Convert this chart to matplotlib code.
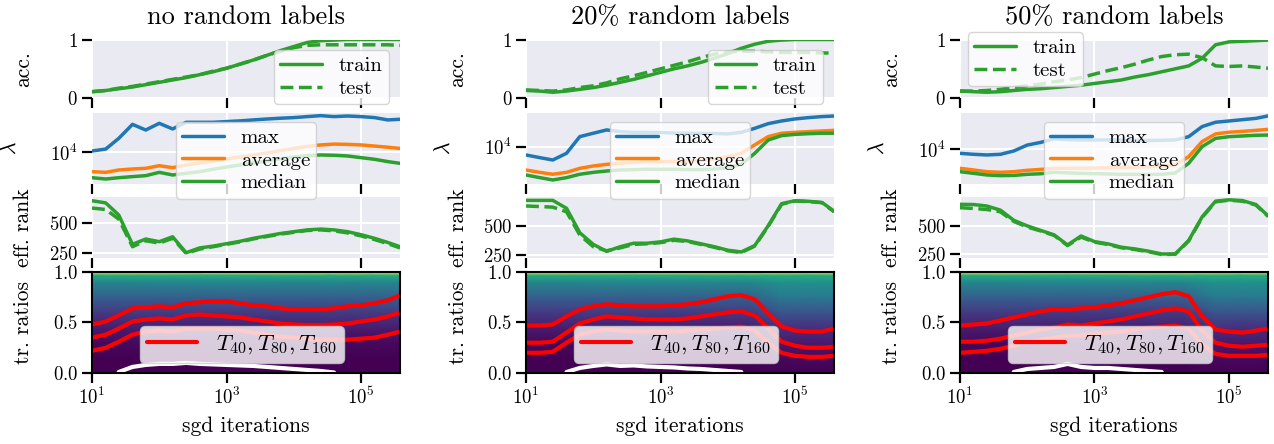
import numpy as np
import matplotlib.pyplot as plt
from matplotlib.ticker import NullLocator

# x positions (sgd iterations) shared by all curves
iters = [10, 16, 25, 40, 63, 100, 158, 251, 398, 631, 1000, 1585, 2512, 3981,
         6310, 10000, 15849, 25119, 39811, 63096, 100000, 158489, 251189, 380000]

titles = ["no random labels", "20% random labels", "50% random labels"]

acc_train = [
    [0.11, 0.13, 0.16, 0.19, 0.23, 0.27, 0.31, 0.35, 0.40, 0.45, 0.51, 0.58, 0.65, 0.73, 0.81, 0.88, 0.95, 0.98, 0.99, 1.0, 1.0, 1.0, 1.0, 1.0],
    [0.13, 0.12, 0.10, 0.12, 0.15, 0.18, 0.22, 0.27, 0.32, 0.38, 0.44, 0.50, 0.55, 0.61, 0.68, 0.76, 0.85, 0.92, 0.97, 0.99, 1.0, 1.0, 1.0, 1.0],
    [0.12, 0.11, 0.10, 0.11, 0.13, 0.15, 0.16, 0.18, 0.20, 0.22, 0.25, 0.28, 0.31, 0.36, 0.40, 0.45, 0.50, 0.55, 0.68, 0.91, 0.96, 0.97, 0.98, 0.99],
]
acc_test = [
    [0.11, 0.13, 0.17, 0.20, 0.24, 0.28, 0.32, 0.36, 0.40, 0.46, 0.51, 0.58, 0.65, 0.73, 0.80, 0.86, 0.90, 0.91, 0.91, 0.91, 0.91, 0.91, 0.91, 0.90],
    [0.14, 0.13, 0.12, 0.14, 0.18, 0.21, 0.26, 0.33, 0.38, 0.44, 0.50, 0.56, 0.62, 0.69, 0.75, 0.79, 0.80, 0.80, 0.79, 0.78, 0.78, 0.78, 0.77, 0.77],
    [0.12, 0.12, 0.13, 0.15, 0.18, 0.21, 0.24, 0.28, 0.31, 0.35, 0.41, 0.47, 0.52, 0.58, 0.65, 0.71, 0.74, 0.75, 0.69, 0.55, 0.54, 0.55, 0.53, 0.51],
]

lam_max = [
    [10300, 10900, 14900, 22400, 19000, 23100, 19600, 23800, 23800, 23800, 24300, 24800, 25500, 26200, 26800, 27300, 28100, 28900, 28100, 28600, 28100, 27300, 25500, 26000],
    [7900, 7310, 6820, 8300, 13500, 14900, 16400, 15600, 15300, 15300, 15200, 15000, 14900, 14800, 14800, 14600, 15300, 17200, 19700, 21300, 22600, 23500, 24200, 24600],
    [8800, 8550, 8390, 8550, 9420, 11200, 12100, 13400, 13100, 13000, 13000, 13000, 12900, 12900, 12800, 12900, 13000, 14300, 19200, 21800, 22600, 23500, 24400, 26200],
]
lam_avg = [
    [5640, 5530, 5920, 6100, 6220, 6710, 6340, 6850, 7260, 7710, 8170, 8650, 9180, 9730, 10400, 11100, 11800, 12300, 12600, 12500, 12300, 11900, 11500, 11100],
    [5090, 4760, 4500, 4760, 5350, 5730, 6010, 6200, 6380, 6500, 6500, 6520, 6640, 6760, 7030, 7520, 8290, 10600, 13500, 14900, 15300, 15600, 15900, 16200],
    [5690, 5410, 5150, 5060, 5150, 5360, 5500, 5690, 5690, 5690, 5720, 5790, 5850, 5900, 5950, 6020, 6270, 7980, 12400, 15500, 16300, 16700, 17200, 17700],
]
lam_med = [
    [4730, 4550, 4730, 4880, 5020, 5530, 5120, 5370, 5640, 6040, 6460, 6850, 7260, 7710, 8170, 8650, 9000, 9180, 9100, 8910, 8490, 8090, 7560, 7190],
    [4400, 4080, 3810, 4080, 4500, 4760, 4950, 5090, 5150, 5200, 5200, 5200, 5150, 5150, 5250, 5460, 6010, 8290, 12200, 13900, 14400, 14700, 14900, 14900],
    [5150, 4910, 4680, 4590, 4620, 4770, 4850, 5060, 4980, 4910, 4860, 4820, 4770, 4770, 4740, 4770, 4950, 6580, 10700, 13600, 14300, 14600, 14900, 15000],
]

rank_train = [
    [683, 665, 564, 320, 364, 342, 383, 250, 290, 305, 325, 345, 370, 390, 410, 425, 440, 447, 440, 425, 400, 370, 335, 300],
    [718, 718, 718, 650, 440, 340, 280, 320, 350, 350, 362, 385, 370, 345, 320, 290, 275, 330, 500, 690, 715, 710, 700, 625],
    [692, 690, 677, 640, 550, 500, 460, 420, 330, 410, 360, 340, 310, 295, 275, 250, 250, 370, 580, 720, 732, 725, 690, 590],
]
rank_test = [
    [622, 610, 530, 300, 350, 330, 370, 245, 280, 300, 320, 340, 365, 385, 405, 420, 435, 440, 432, 415, 390, 360, 325, 290],
    [670, 665, 660, 620, 420, 320, 285, 310, 340, 345, 355, 375, 365, 340, 315, 285, 270, 325, 495, 685, 712, 708, 698, 620],
    [662, 655, 646, 625, 540, 490, 455, 415, 325, 400, 355, 335, 305, 290, 270, 245, 248, 365, 575, 715, 728, 720, 685, 585],
]

t_high = [
    [0.48, 0.51, 0.57, 0.64, 0.65, 0.66, 0.65, 0.69, 0.70, 0.71, 0.71, 0.69, 0.67, 0.66, 0.64, 0.63, 0.63, 0.63, 0.64, 0.66, 0.67, 0.69, 0.72, 0.77],
    [0.47, 0.47, 0.48, 0.56, 0.63, 0.66, 0.68, 0.67, 0.66, 0.66, 0.66, 0.67, 0.68, 0.70, 0.73, 0.76, 0.77, 0.73, 0.59, 0.46, 0.42, 0.41, 0.41, 0.44],
    [0.47, 0.48, 0.49, 0.52, 0.55, 0.58, 0.61, 0.63, 0.63, 0.64, 0.65, 0.67, 0.69, 0.72, 0.75, 0.78, 0.80, 0.76, 0.56, 0.43, 0.41, 0.40, 0.42, 0.44],
]
t_mid = [
    [0.35, 0.38, 0.44, 0.51, 0.53, 0.54, 0.53, 0.57, 0.58, 0.57, 0.56, 0.55, 0.53, 0.51, 0.49, 0.48, 0.475, 0.475, 0.48, 0.49, 0.51, 0.53, 0.56, 0.60],
    [0.30, 0.30, 0.31, 0.40, 0.49, 0.53, 0.56, 0.55, 0.54, 0.53, 0.53, 0.53, 0.54, 0.56, 0.58, 0.60, 0.61, 0.57, 0.44, 0.31, 0.27, 0.25, 0.25, 0.26],
    [0.31, 0.31, 0.32, 0.34, 0.37, 0.40, 0.43, 0.45, 0.48, 0.47, 0.49, 0.51, 0.53, 0.56, 0.59, 0.62, 0.64, 0.61, 0.42, 0.30, 0.27, 0.26, 0.27, 0.28],
]
t_low = [
    [0.22, 0.25, 0.31, 0.38, 0.41, 0.42, 0.41, 0.44, 0.44, 0.44, 0.43, 0.42, 0.40, 0.38, 0.36, 0.35, 0.34, 0.33, 0.33, 0.33, 0.34, 0.35, 0.38, 0.41],
    [0.20, 0.20, 0.21, 0.30, 0.38, 0.41, 0.43, 0.42, 0.41, 0.41, 0.41, 0.41, 0.42, 0.43, 0.44, 0.45, 0.46, 0.42, 0.30, 0.20, 0.17, 0.16, 0.16, 0.17],
    [0.20, 0.21, 0.22, 0.24, 0.27, 0.30, 0.33, 0.35, 0.37, 0.37, 0.39, 0.40, 0.41, 0.43, 0.45, 0.46, 0.47, 0.44, 0.28, 0.19, 0.17, 0.17, 0.17, 0.18],
]
nan = np.nan
t_floor = [
    [nan, nan, 0.01, 0.06, 0.08, 0.09, 0.09, 0.10, 0.09, 0.085, 0.08, 0.075, 0.07, 0.06, 0.05, 0.04, 0.03, 0.02, 0.005, nan, nan, nan, nan, nan],
    [nan, nan, nan, 0.01, 0.05, 0.07, 0.085, 0.07, 0.075, 0.065, 0.06, 0.055, 0.045, 0.04, 0.03, 0.02, 0.01, nan, nan, nan, nan, nan, nan, nan],
    [nan, nan, nan, nan, 0.01, 0.04, 0.05, 0.06, 0.09, 0.06, 0.05, 0.05, 0.04, 0.03, 0.02, 0.01, nan, nan, nan, nan, nan, nan, nan, nan],
]

# background density of the ratios (viridis level) at a few heights / times
heat_y = [0.0, 0.15, 0.3, 0.45, 0.6, 0.75, 0.9, 0.97, 1.0]
heat_x = [10, 20000, 60000, 380000]
prof_a = [0.0, 0.0, 0.02, 0.08, 0.17, 0.30, 0.46, 0.62, 1.0]
prof_b = [0.0, 0.02, 0.07, 0.14, 0.26, 0.40, 0.50, 0.62, 1.0]
heat_cols = [
    [prof_a, prof_a, prof_a, prof_a],
    [prof_a, prof_a, prof_b, prof_b],
    [prof_a, prof_a, prof_b, prof_b],
]

lam_lims = [(3936, 31260), (3388, 26915), (3597, 28576)]
rank_lims = [(206, 714), (223, 747), (214, 757)]

plt.style.use('seaborn-v0_8-darkgrid')
plt.rcParams.update({
    'font.family': ['cmr10', 'DejaVu Serif'],
    'mathtext.fontset': 'cm',
    'axes.formatter.use_mathtext': True,
    'text.color': 'black',
    'axes.labelcolor': 'black',
    'xtick.bottom': True,
    'ytick.left': True,
    'xtick.color': 'black',
    'ytick.color': 'black',
    'xtick.major.size': 7,
    'ytick.major.size': 7,
    'xtick.major.width': 1.6,
    'ytick.major.width': 1.6,
    'xtick.major.pad': 3,
    'ytick.major.pad': 3,
    'xtick.labelsize': 13.5,
    'ytick.labelsize': 13.5,
    'axes.labelsize': 15.5,
    'axes.titlesize': 19,
    'grid.linewidth': 1.5,
    'legend.fontsize': 15,
    'legend.frameon': True,
    'legend.framealpha': 0.8,
    'legend.facecolor': 'white',
    'legend.edgecolor': '0.8',
    'legend.handlelength': 2.0,
    'legend.labelspacing': 0.2,
    'legend.borderpad': 0.3,
    'legend.borderaxespad': 0.0,
})

blue, orange, green = '#1f77b4', '#ff7f0e', '#2ca02c'
lw = 2.5

fig = plt.figure(figsize=(12.74, 4.44), dpi=100)
lefts = [0.0722, 0.4129, 0.7535]
width = 0.2418
rows = [(0.779, 0.132), (0.5856, 0.160), (0.4189, 0.1374), (0.1599, 0.2275)]

for c in range(3):
    axs = [fig.add_axes([lefts[c], b, width, h]) for b, h in rows]
    for ax in axs:
        ax.set_xscale('log')
        ax.set_xlim(10, 380000)
        ax.set_xticks([10, 1000, 100000])
        ax.xaxis.set_minor_locator(NullLocator())
    for ax in axs[:3]:
        ax.tick_params(labelbottom=False)

    ax1, ax2, ax3, ax4 = axs
    ax2.set_zorder(2)

    # accuracy
    ax1.plot(iters, acc_train[c], color=green, lw=lw, label='train')
    ax1.plot(iters, acc_test[c], color=green, lw=lw, ls='--', label='test')
    ax1.set_ylim(0, 1)
    ax1.set_yticks([0, 1])
    ax1.set_title(titles[c], pad=11)
    ax1.set_ylabel('acc.')
    if c < 2:
        ax1.legend(loc='lower right', bbox_to_anchor=(0.964, -0.105))
    else:
        ax1.legend(loc='upper left', bbox_to_anchor=(0.026, 1.12))

    # eigenvalues
    ax2.plot(iters, lam_max[c], color=blue, lw=lw, label='max')
    ax2.plot(iters, lam_avg[c], color=orange, lw=lw, label='average')
    ax2.plot(iters, lam_med[c], color=green, lw=lw, label='median')
    ax2.set_yscale('log')
    ax2.set_ylim(*lam_lims[c])
    ax2.set_yticks([10000])
    ax2.yaxis.set_minor_locator(NullLocator())
    ax2.set_ylabel(r'$\lambda$')
    ax2.legend(loc='upper left', bbox_to_anchor=(0.273, 0.873))

    # effective rank
    ax3.plot(iters, rank_train[c], color=green, lw=lw)
    ax3.plot(iters, rank_test[c], color=green, lw=lw, ls='--')
    ax3.set_ylim(*rank_lims[c])
    ax3.set_yticks([250, 500])
    ax3.set_ylabel('eff. rank')

    # trace ratios
    X, Y = np.meshgrid(heat_x, heat_y)
    C = np.array(heat_cols[c]).T
    ax4.pcolormesh(X, Y, C, shading='gouraud', cmap='viridis', vmin=0, vmax=1)
    ax4.plot(iters, t_high[c], color='red', lw=3, label=r'$T_{40}, T_{80}, T_{160}$')
    ax4.plot(iters, t_mid[c], color='red', lw=3)
    ax4.plot(iters, t_low[c], color='red', lw=3)
    ax4.plot(iters, t_floor[c], color='white', lw=3)
    ax4.set_xlim(10, 380000)
    ax4.set_ylim(0, 1)
    ax4.set_yticks([0.0, 0.5, 1.0])
    ax4.grid(False)
    for s in ax4.spines.values():
        s.set_visible(True)
        s.set_color('black')
        s.set_linewidth(1.5)
    ax4.set_ylabel('tr. ratios')
    ax4.set_xlabel('sgd iterations', labelpad=6)
    ax4.legend(loc='lower left', bbox_to_anchor=(0.156, 0.099), fontsize=16.5,
               handlelength=2.2)

    ax1.yaxis.set_label_coords(-0.19, 0.5)
    ax2.yaxis.set_label_coords(-0.235, 0.5)
    ax3.yaxis.set_label_coords(-0.19, 0.5)
    ax4.yaxis.set_label_coords(-0.19, 0.5)

fig.savefig('out.png', dpi=100)
